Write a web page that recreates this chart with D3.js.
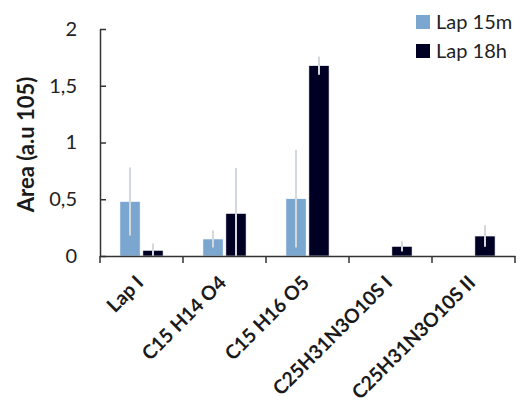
<!DOCTYPE html>
<html><head><meta charset="utf-8">
<script src="https://cdn.jsdelivr.net/npm/d3@7"></script>
<style>body{margin:0;background:#fff;} svg{display:block;font-family:Lato, "Open Sans", sans-serif;}</style>
</head><body>
<svg id="c" width="520" height="407"></svg>
<script>
const categories = ["Lap I", "C15 H14 O4", "C15 H16 O5", "C25H31N3O10S I", "C25H31N3O10S II"];
const series = ["Lap 15m", "Lap 18h"];
const lap15m = [0.48, 0.15, 0.505, 0, 0];
const lap18h = [0.05, 0.375, 1.677, 0.085, 0.176];
const err15m = [0.30, 0.075, 0.43, 0, 0];
const err18h = [0.06, 0.40, 0.08, 0.045, 0.095];
const yTicks = [0, 0.5, 1, 1.5, 2];
const yTickLabels = ["0", "0,5", "1", "1,5", "2"];
const colors = ["#7aa6cf", "#000024"];

const svg = d3.select("#c");
const m = {l: 100, r: 5, t: 29, b: 151};
const W = 520, H = 407;
const x = d3.scaleBand().domain(categories).range([m.l, W - m.r]).paddingInner(0).paddingOuter(0);
const y = d3.scaleLinear().domain([0, 2]).range([H - m.b, m.t]);
const bw = x.bandwidth();
const sub = d3.scaleBand().domain(series).range([bw * 0.24, bw * 0.76]).paddingInner(0.12);

const vals = [lap15m, lap18h], errs = [err15m, err18h];
series.forEach((s, si) => {
  const g = svg.append("g");
  categories.forEach((c, ci) => {
    const v = vals[si][ci];
    if (!v) return;
    const x0 = x(c) + sub(s);
    g.append("rect").attr("x", x0).attr("y", y(v)).attr("width", sub.bandwidth())
      .attr("height", y(0) - y(v)).attr("fill", colors[si]).attr("stroke", "#fff").attr("stroke-width", 0.6);
    const e = errs[si][ci];
    g.append("line").attr("x1", x0 + sub.bandwidth() / 2).attr("x2", x0 + sub.bandwidth() / 2)
      .attr("y1", y(Math.max(0, v - e))).attr("y2", y(v + e))
      .attr("stroke", "#d3d8dc").attr("stroke-width", 2);
  });
});

// y axis
const ya = svg.append("g").attr("transform", `translate(${m.l},0)`)
  .call(d3.axisLeft(y).tickValues(yTicks).tickFormat((d, i) => yTickLabels[i]).tickSizeInner(-6).tickSizeOuter(0).tickPadding(23));
ya.select(".domain").attr("stroke", "#333").attr("stroke-width", 1.5);
ya.selectAll(".tick line").attr("stroke", "#333").attr("stroke-width", 1.5);
ya.selectAll("text").attr("font-size", 20).attr("fill", "#222").attr("font-family", "Lato, sans-serif");

// x axis
const xa = svg.append("g").attr("transform", `translate(0,${y(0)})`)
  .call(d3.axisBottom(x).tickSize(0).tickFormat(""));
xa.select(".domain").attr("stroke", "#333").attr("stroke-width", 1.5);
xa.selectAll(".tick").remove();
const bounds = categories.map(c => x(c)).concat([x(categories[categories.length - 1]) + bw]);
svg.append("g").selectAll("line").data(bounds).join("line")
  .attr("x1", d => d).attr("x2", d => d).attr("y1", y(0)).attr("y2", y(0) + 7)
  .attr("stroke", "#333").attr("stroke-width", 1.5);

svg.append("g").selectAll("text").data(categories).join("text")
  .attr("transform", d => `translate(${x(d) + bw / 2 + 3},${y(0) + 28}) rotate(-45)`)
  .attr("text-anchor", "end").attr("font-size", 19.5).attr("font-weight", "bold").attr("fill", "#1a1a1a")
  .text(d => d);

// y title
svg.append("text").attr("transform", `translate(34,${(y(0) + y(2)) / 2 + 2}) rotate(-90)`)
  .attr("text-anchor", "middle").attr("font-size", 22).attr("font-weight", "bold").attr("fill", "#1a1a1a")
  .text("Area (a.u 105)");

// legend
const lg = svg.append("g").selectAll("g").data(series).join("g")
  .attr("transform", (d, i) => `translate(416,${15 + i * 29})`);
lg.append("rect").attr("width", 14).attr("height", 14).attr("fill", (d, i) => colors[i]);
lg.append("text").attr("x", 20).attr("y", 14).attr("font-size", 20).attr("fill", "#222").text(d => d);
</script>
</body></html>
